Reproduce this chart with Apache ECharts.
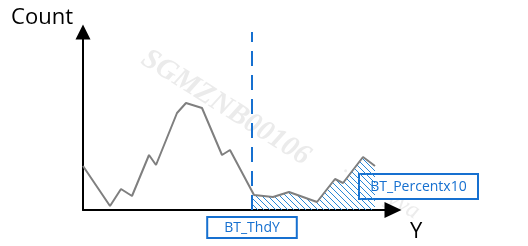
<!DOCTYPE html>
<html><head><meta charset="utf-8">
<script src="https://cdn.jsdelivr.net/npm/echarts@6/dist/echarts.min.js"></script>
<style>html,body{margin:0;padding:0;background:#fff}#c{width:528px;height:246px}</style>
</head><body><div id="c"></div>
<script>
// Y value (horizontal) and Count (vertical) of the histogram curve
const yValues = [0, 27, 38, 49, 66, 73, 94, 103, 119, 139, 147, 171, 190, 206, 234, 252, 260, 280, 292];
const counts  = [44, 4, 21, 14, 55, 45, 97, 107, 102, 55, 60, 15, 13, 18, 8, 31, 27, 53, 44];
const thresholdY = 169;
const thresholdTop = 178;
const labelThd = 'BT_ThdY';
const labelPct = 'BT_Percentx10';

const lineData = yValues.map((v, i) => [v, counts[i]]);
// hatched part: from threshold to end
let hatch = [];
for (let i = 1; i < yValues.length; i++) {
  if (yValues[i - 1] <= thresholdY && yValues[i] >= thresholdY) {
    const t = (thresholdY - yValues[i - 1]) / (yValues[i] - yValues[i - 1]);
    hatch.push([thresholdY, counts[i - 1] + t * (counts[i] - counts[i - 1])]);
  }
  if (yValues[i] > thresholdY) hatch.push([yValues[i], counts[i]]);
}
hatch.push([yValues[yValues.length - 1], 0]);

const pc = document.createElement('canvas');
pc.width = 6; pc.height = 6;
const g = pc.getContext('2d');
g.fillStyle = '#2a88d6';
for (let i = 0; i < 6; i++) g.fillRect(i, i, 1, 1);

const blue = '#1670d0';
const chart = echarts.init(document.getElementById('c'), null, {renderer: 'canvas'});
chart.setOption({
  animation: false,
  grid: {left: 83, right: 135, top: 32, bottom: 36},
  xAxis: {
    type: 'value', min: 0, max: 310,
    name: 'Y', nameLocation: 'end', nameGap: 17,
    nameTextStyle: {fontFamily: 'Open Sans', fontSize: 22, color: '#000', align: 'left', verticalAlign: 'top', padding: [11, 0, 0, 0]},
    axisLine: {lineStyle: {color: '#000', width: 2}, symbol: ['none', 'triangle'], symbolSize: [16, 17]},
    axisTick: {show: false}, axisLabel: {show: false}, splitLine: {show: false}
  },
  yAxis: {
    type: 'value', min: 0, max: 178,
    name: 'Count', nameLocation: 'end', nameGap: 3,
    nameTextStyle: {fontFamily: 'Open Sans', fontSize: 22, color: '#000', align: 'right', verticalAlign: 'bottom', padding: [0, 10, 0, 0]},
    axisLine: {show: true, lineStyle: {color: '#000', width: 2}, symbol: ['none', 'triangle'], symbolSize: [15, 15]},
    axisTick: {show: false}, axisLabel: {show: false}, splitLine: {show: false}
  },
  graphic: [
    {type: 'text', left: 136, top: 44, rotation: -0.56, z: 0,
     style: {text: 'SGMZNB00106', font: 'bold italic 29px "Liberation Serif"', fill: '#ebebeb'}},
    {type: 'text', left: 336, top: 160, rotation: -0.52, z: 0,
     style: {text: '·  ·  ·  yya', font: 'italic 24px "Liberation Serif"', fill: '#ececec'}},
    {type: 'group', left: 358, top: 173, z: 10, children: [
      {type: 'rect', shape: {x: 0, y: 0, width: 119, height: 25}, style: {fill: '#fff', stroke: blue, lineWidth: 2}},
      {type: 'text', x: 59.5, y: 13, style: {text: labelPct, font: '14px "Open Sans"', fill: blue, align: 'center', verticalAlign: 'middle'}}
    ]}
  ],
  series: [
    {type: 'line', data: hatch, showSymbol: false, lineStyle: {width: 0}, z: 1,
     areaStyle: {color: {image: pc, repeat: 'repeat'}, opacity: 1}},
    {type: 'line', data: lineData, showSymbol: false, z: 3,
     lineStyle: {color: '#7f7f7f', width: 2}, itemStyle: {color: '#7f7f7f'},
     markLine: {
       symbol: 'none', silent: true,
       lineStyle: {color: blue, width: 2, type: [15, 9]},
       label: {show: true, position: 'start', formatter: labelThd, color: blue, fontFamily: 'Open Sans', fontSize: 14,
               backgroundColor: '#fff', borderColor: blue, borderWidth: 2, padding: [3, 16, 2, 16], distance: 8},
       data: [[{coord: [thresholdY, 0]}, {coord: [thresholdY, thresholdTop]}]]
     }}
  ]
});
</script></body></html>
